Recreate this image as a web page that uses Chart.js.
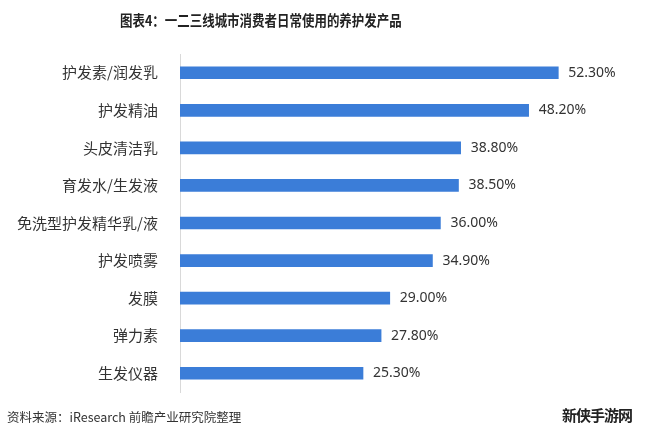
<!DOCTYPE html>
<html>
<head>
<meta charset="utf-8">
<script src="https://cdn.jsdelivr.net/npm/chart.js@4"></script>
<style>
  html, body { margin: 0; padding: 0; background: #fff; }
  #wrap { position: relative; width: 664px; height: 437px; overflow: hidden; }
  #chartCanvas { position: absolute; left: 0; top: 0; }
  #title {
    position: absolute; left: 120px; top: 9px;
    font: bold 14.5px "Noto Sans CJK SC", sans-serif; color: #222;
    transform: scaleX(0.86); transform-origin: left top;
    white-space: nowrap;
  }
  #source {
    position: absolute; left: 7px; top: 407px;
    font: 12.5px "Noto Sans CJK SC", sans-serif; color: #333;
    white-space: nowrap;
  }
  #logo {
    position: absolute; left: 562px; top: 404px;
    font: bold 15px "Noto Sans CJK SC", sans-serif; color: #222;
    letter-spacing: -1px;
    white-space: nowrap;
  }
</style>
</head>
<body>
<div id="wrap">
  <canvas id="chartCanvas" width="664" height="437"></canvas>
  <div id="title">图表4：一二三线城市消费者日常使用的养护发产品</div>
  <div id="source">资料来源：iResearch 前瞻产业研究院整理</div>
  <div id="logo">新侠手游网</div>
</div>
<script>
// =========================
// Data
// =========================
const categories = ["护发素/润发乳", "护发精油", "头皮清洁乳", "育发水/生发液", "免洗型护发精华乳/液", "护发喷雾", "发膜", "弹力素", "生发仪器"];
const shares = [52.3, 48.2, 38.8, 38.5, 36.0, 34.9, 29.0, 27.8, 25.3];
const valueLabels = ["52.30%", "48.20%", "38.80%", "38.50%", "36.00%", "34.90%", "29.00%", "27.80%", "25.30%"];

// =========================
// Value labels plugin
// =========================
const valueLabelPlugin = {
    id: "valueLabels",
    afterDatasetsDraw(chart) {
        const ctx = chart.ctx;
        const meta = chart.getDatasetMeta(0);
        ctx.save();
        ctx.font = '14px "Noto Sans", sans-serif';
        ctx.fillStyle = "#333";
        ctx.textBaseline = "middle";
        ctx.textAlign = "left";
        meta.data.forEach((bar, i) => {
            ctx.fillText(valueLabels[i], bar.x + 10, bar.y);
        });
        ctx.restore();
    }
};

// =========================
// Chart
// =========================
const ctx = document.getElementById("chartCanvas").getContext("2d");

new Chart(ctx, {
    type: "bar",
    data: {
        labels: categories,
        datasets: [{
            data: shares,
            backgroundColor: "#3b7dd8",
            barThickness: 12
        }]
    },
    options: {
        indexAxis: "y",
        responsive: false,
        animation: false,
        layout: { padding: { top: 54, bottom: 45, right: 50, left: 0 } },
        plugins: {
            legend: { display: false },
            tooltip: { enabled: false }
        },
        scales: {
            x: {
                display: false,
                min: 0,
                max: 60
            },
            y: {
                afterFit(scale) { scale.width = 180; },
                grid: { display: false },
                border: { display: true, color: "#d9d9d9", width: 1 },
                ticks: {
                    color: "#333",
                    padding: 14,
                    font: { size: 15, family: '"Noto Sans CJK SC", sans-serif' }
                }
            }
        }
    },
    plugins: [valueLabelPlugin]
});
</script>
</body>
</html>
